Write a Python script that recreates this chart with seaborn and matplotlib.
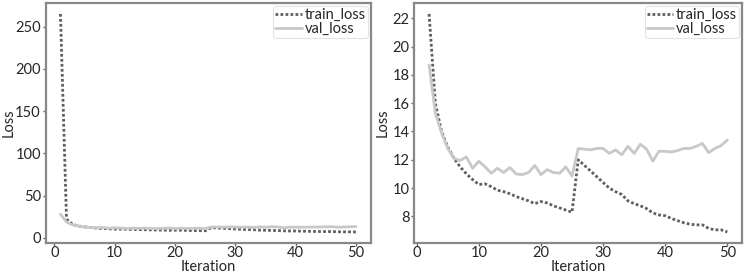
import numpy as np
import pandas as pd
import seaborn as sns
import matplotlib.pyplot as plt

# values
iterations = list(range(1, 51))
train_loss = [265.0, 22.3, 16.0, 14.0, 12.9, 12.1, 11.5, 11.0, 10.6, 10.25,
              10.3, 10.1, 9.85, 9.75, 9.6, 9.4, 9.25, 9.1, 8.9, 9.05,
              8.95, 8.75, 8.6, 8.45, 8.3, 12.0, 11.6, 11.2, 10.8, 10.4,
              10.0, 9.75, 9.55, 9.1, 8.9, 8.75, 8.55, 8.25, 8.1, 8.05,
              7.85, 7.7, 7.55, 7.45, 7.4, 7.4, 7.15, 7.05, 7.05, 6.9]
val_loss = [28.0, 18.7, 15.3, 13.9, 12.8, 12.1, 11.95, 12.2, 11.4, 11.9,
            11.5, 11.05, 11.4, 11.1, 11.45, 11.0, 10.95, 11.1, 11.6, 10.95,
            11.3, 11.1, 11.05, 11.5, 10.85, 12.8, 12.75, 12.7, 12.8, 12.8,
            12.45, 12.7, 12.35, 12.95, 12.45, 13.1, 12.75, 11.9, 12.6, 12.6,
            12.55, 12.65, 12.8, 12.8, 12.95, 13.15, 12.5, 12.8, 13.0, 13.4]

df = pd.DataFrame({"Iteration": iterations, "train_loss": train_loss, "val_loss": val_loss})

sns.set_style("ticks")
plt.rcParams['font.family'] = ['Lato', 'DejaVu Sans']
plt.rcParams['font.size'] = 10.5

fig = plt.figure(figsize=(7.49, 2.76), dpi=100)
ax1 = fig.add_axes([0.061, 0.12, 0.434, 0.869])
ax2 = fig.add_axes([0.553, 0.12, 0.438, 0.869])

panels = [(ax1, df, [0, 50, 100, 150, 200, 250], -0.092),
          (ax2, df[df["Iteration"] >= 2], [8, 10, 12, 14, 16, 18, 20, 22], -0.075)]
for ax, data, yticks, ylab_x in panels:
    sns.lineplot(data=data, x="Iteration", y="train_loss", ax=ax, color="#5f5f5f",
                 linestyle=(0, (1, 0.8)), linewidth=2.0, label="train_loss")
    sns.lineplot(data=data, x="Iteration", y="val_loss", ax=ax, color="#c8c8c8",
                 linewidth=2.0, label="val_loss")
    ax.set_xticks([0, 10, 20, 30, 40, 50])
    ax.set_yticks(yticks)
    ax.set_xlabel("Iteration", fontsize=10.5)
    ax.set_ylabel("Loss", fontsize=10.5)
    ax.xaxis.set_label_coords(0.5, -0.07)
    ax.yaxis.set_label_coords(ylab_x, 0.5)
    ax.tick_params(labelsize=10.5, color="#666666", length=2.5, width=1, pad=1)
    ax.tick_params(axis="x", pad=0)
    for s in ax.spines.values():
        s.set_visible(True)
        s.set_color("#888888")
        s.set_linewidth(1.6)
    leg = ax.legend(loc="upper right", fontsize=10.5, frameon=True, handlelength=1.8,
                    handletextpad=0.2, borderpad=0.15, labelspacing=0.0, borderaxespad=0.2)
    leg.get_frame().set_edgecolor("#dddddd")
    leg.get_frame().set_linewidth(0.8)

fig.savefig("out.png", dpi=100)
